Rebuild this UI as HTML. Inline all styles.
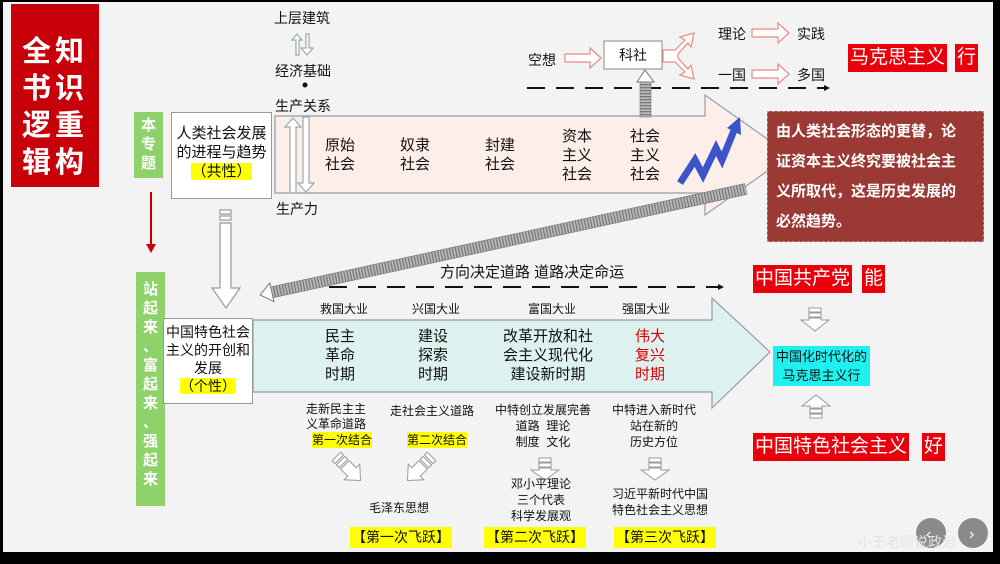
<!DOCTYPE html>
<html><head><meta charset="utf-8">
<style>
body{margin:0;width:1000px;height:564px;background:#000;overflow:hidden;position:relative;font-family:"Liberation Sans","Noto Sans CJK SC",sans-serif;color:#111}
.s{position:absolute;left:3px;top:2px;width:990px;height:550px;background:#f3f3f3}
.a{position:absolute;white-space:nowrap}
.c{text-align:center}
.y{background:#ffff00}
.r{background:#e8000b;color:#fff;font-size:19px;line-height:28px;padding:0 2px}
</style></head><body>
<div class="s"></div>
<svg class="a" style="left:0;top:0" width="1000" height="564">
<defs>
<pattern id="h" width="3" height="4" patternUnits="userSpaceOnUse"><rect width="3" height="4" fill="#bbb"/><rect width="1.3" height="4" fill="#777"/></pattern>
<pattern id="hv" width="4" height="3" patternUnits="userSpaceOnUse"><rect width="4" height="3" fill="#bbb"/><rect width="4" height="1.3" fill="#777"/></pattern>
</defs>
<polygon points="275,116 705,116 705,95 790,155 705,215 705,193 275,193" fill="#fdeee9" stroke="#9a9aa8" stroke-width="1.2"/>
<polygon points="253,320 712,320 712,298 770,352 712,408 712,392 253,392" fill="#ddf2ef" stroke="#9a9aa8" stroke-width="1.2"/>
<g fill="#fff" stroke="#9aa" stroke-width="1.2">
<polygon points="290,193 290,127 285,127 293,118 301,127 296,127 296,193"/>
<polygon points="303,117 309,117 309,183 314,183 306,192 298,183 303,183"/>
<polygon points="296,55 296,40 292,40 297,34 302,40 299,40 299,55"/>
<polygon points="306,34 309,34 309,48 313,48 307,55 301,48 306,48"/>
</g>
<circle cx="305" cy="85" r="2.5" fill="#111"/>
<line x1="527" y1="88" x2="824" y2="88" stroke="#111" stroke-width="2" stroke-dasharray="18,11"/>
<polygon points="824,85 830,88 824,91" fill="#111"/>
<line x1="300" y1="287" x2="718" y2="287" stroke="#111" stroke-width="2" stroke-dasharray="18,11"/>
<polygon points="718,284 724,287 718,290" fill="#111"/>
<g fill="#fff" stroke="#e88" stroke-width="1.2">
<polygon points="565,54 590,54 590,48 601,58 590,68 590,62 565,62"/>
<polygon points="752,29 778,29 778,23 789,33 778,43 778,37 752,37"/>
<polygon points="752,70 778,70 778,64 789,74 778,84 778,78 752,78"/>
<path d="M663,50 L675,50 L685,40 L680,37 L694,33 L691,47 L688,43 L678,54 L678,58 L688,69 L691,65 L694,79 L680,75 L685,72 L675,62 L663,62 Z"/>
</g>
<rect x="604" y="41" width="58" height="28" fill="#fff" stroke="#888"/>
<rect x="640" y="82" width="11" height="35" fill="url(#hv)" stroke="#777" stroke-width=".6"/>
<polygon points="637,82 645,70 654,82" fill="#fff" stroke="#777"/>
<g transform="translate(262,294) rotate(-12.3)">
<rect x="10" y="-5" width="485" height="11" fill="url(#h)" stroke="#777" stroke-width=".6"/>
<polygon points="10,-9 -2,0.5 10,10" fill="#fff" stroke="#777"/>
</g>
<polyline points="680,183 695,160 703,175 716,148 722,160 735,128" fill="none" stroke="#3b55c9" stroke-width="7" stroke-linejoin="miter"/>
<polygon points="727,128 740,117 741,135" fill="#3b55c9"/>
<g fill="#fff" stroke="#999" stroke-width="1.2">
<rect x="220" y="210" width="11" height="4"/><rect x="220" y="216" width="11" height="4"/>
<polygon points="220,223 231,223 231,288 240,288 226,308 212,288 220,288"/>
</g>
<line x1="151" y1="192" x2="151" y2="248" stroke="#c00" stroke-width="2"/>
<polygon points="146,244 151,253 156,244" fill="#c00"/>
<g fill="#fff" stroke="#999" stroke-width="1">
<g transform="translate(352,472) rotate(-45)"><rect x="-6" y="-22" width="12" height="4"/><rect x="-6" y="-16" width="12" height="4"/><polygon points="-6,-10 6,-10 6,0 11,0 0,12 -11,0 -6,0"/></g>
<g transform="translate(416,472) rotate(45)"><rect x="-6" y="-22" width="12" height="4"/><rect x="-6" y="-16" width="12" height="4"/><polygon points="-6,-10 6,-10 6,0 11,0 0,12 -11,0 -6,0"/></g>
<g transform="translate(545,466)"><rect x="-6" y="-8" width="12" height="4"/><rect x="-6" y="-3" width="12" height="4"/><polygon points="-6,2 6,2 6,4 14,4 0,14 -14,4 -6,4"/></g>
<g transform="translate(655,466)"><rect x="-6" y="-8" width="12" height="4"/><rect x="-6" y="-3" width="12" height="4"/><polygon points="-6,2 6,2 6,4 14,4 0,14 -14,4 -6,4"/></g>
<g transform="translate(815,318)"><rect x="-6" y="-10" width="12" height="4"/><rect x="-6" y="-5" width="12" height="4"/><polygon points="-6,0 6,0 6,2 14,2 0,13 -14,2 -6,2"/></g>
<g transform="translate(816,408) rotate(180)"><rect x="-6" y="-10" width="12" height="4"/><rect x="-6" y="-5" width="12" height="4"/><polygon points="-6,0 6,0 6,2 14,2 0,13 -14,2 -6,2"/></g>
</g>
<circle cx="931" cy="533" r="15" fill="#8a8a8a"/><circle cx="973" cy="533" r="15" fill="#8a8a8a"/>
<text x="926" y="539" fill="#fff" font-size="16">‹</text><text x="969" y="539" fill="#fff" font-size="16">›</text>
</svg>

<div class="a" style="left:11px;top:4px;width:88px;height:183px;background:#c8000a;color:#fff;font-size:29px;line-height:37px;font-weight:bold;padding-top:30px;box-sizing:border-box;text-align:center;letter-spacing:4px">全知<br>书识<br>逻重<br>辑构</div>
<div class="a c" style="left:134px;top:112px;width:29px;height:66px;background:#8fd16a;color:#fff;font-weight:bold;font-size:15px;line-height:19px;padding-top:4px;box-sizing:border-box">本<br>专<br>题</div>
<div class="a c" style="left:136px;top:272px;width:29px;height:234px;background:#8fd16a;color:#fff;font-weight:bold;font-size:15px;line-height:19px;padding-top:8px;box-sizing:border-box">站<br>起<br>来<br>、<br>富<br>起<br>来<br>、<br>强<br>起<br>来</div>

<div class="a c" style="left:171px;top:112px;width:101px;height:87px;background:#fff;border:1px solid #999;box-sizing:border-box;font-size:15px;line-height:19px;padding-top:11px">人类社会发展<br>的进程与趋势<br><span class="y">（共性）</span></div>
<div class="a c" style="left:163px;top:318px;width:90px;height:86px;background:#fff;border:1px solid #999;box-sizing:border-box;font-size:14px;line-height:18px;padding-top:4px">中国特色社会<br>主义的开创和<br>发展<br><span class="y">（个性）</span></div>

<div class="a" style="left:274px;top:8px;font-size:14px">上层建筑</div>
<div class="a" style="left:275px;top:61px;font-size:14px">经济基础</div>
<div class="a" style="left:275px;top:96px;font-size:14px">生产关系</div>
<div class="a" style="left:276px;top:199px;font-size:14px">生产力</div>

<div class="a c" style="left:325px;top:136px;font-size:15px;line-height:19px">原始<br>社会</div>
<div class="a c" style="left:400px;top:136px;font-size:15px;line-height:19px">奴隶<br>社会</div>
<div class="a c" style="left:485px;top:136px;font-size:15px;line-height:19px">封建<br>社会</div>
<div class="a c" style="left:562px;top:127px;font-size:15px;line-height:19px">资本<br>主义<br>社会</div>
<div class="a c" style="left:630px;top:127px;font-size:15px;line-height:19px">社会<br>主义<br>社会</div>

<div class="a" style="left:528px;top:50px;font-size:14px">空想</div>
<div class="a c" style="left:604px;top:45px;width:58px;font-size:14px">科社</div>
<div class="a" style="left:718px;top:24px;font-size:14px">理论</div>
<div class="a" style="left:797px;top:24px;font-size:14px">实践</div>
<div class="a" style="left:718px;top:65px;font-size:14px">一国</div>
<div class="a" style="left:797px;top:65px;font-size:14px">多国</div>
<div class="a r" style="left:848px;top:44px">马克思主义</div>
<div class="a r" style="left:955px;top:44px">行</div>

<div class="a" style="left:767px;top:111px;width:217px;height:131px;background:#9b3a35;border:1px dashed #c88;box-sizing:border-box;color:#fff;font-weight:bold;font-size:15px;line-height:30px;padding:5px 0 0 8px">由人类社会形态的更替，论<br>证资本主义终究要被社会主<br>义所取代，这是历史发展的<br>必然趋势。</div>

<div class="a" style="left:440px;top:261px;font-size:15px">方向决定道路 道路决定命运</div>

<div class="a" style="left:320px;top:300px;font-size:12px">救国大业</div>
<div class="a" style="left:412px;top:300px;font-size:12px">兴国大业</div>
<div class="a" style="left:528px;top:300px;font-size:12px">富国大业</div>
<div class="a" style="left:622px;top:300px;font-size:12px">强国大业</div>

<div class="a c" style="left:325px;top:327px;font-size:15px;line-height:19px">民主<br>革命<br>时期</div>
<div class="a c" style="left:418px;top:327px;font-size:15px;line-height:19px">建设<br>探索<br>时期</div>
<div class="a c" style="left:503px;top:327px;font-size:15px;line-height:19px">改革开放和社<br>会主义现代化<br>建设新时期</div>
<div class="a c" style="left:635px;top:327px;font-size:15px;line-height:19px;color:#d00">伟大<br>复兴<br>时期</div>

<div class="a" style="left:306px;top:402px;font-size:12px;line-height:15px">走新民主主<br>义革命道路</div>
<div class="a y" style="left:312px;top:432px;font-size:12px;line-height:16px">第一次结合</div>
<div class="a" style="left:390px;top:402px;font-size:12px">走社会主义道路</div>
<div class="a y" style="left:407px;top:432px;font-size:12px;line-height:16px">第二次结合</div>
<div class="a c" style="left:495px;top:402px;font-size:12px;line-height:16px">中特创立发展完善<br>道路&nbsp; 理论<br>制度&nbsp; 文化</div>
<div class="a c" style="left:612px;top:402px;font-size:12px;line-height:16px">中特进入新时代<br>站在新的<br>历史方位</div>

<div class="a" style="left:369px;top:499px;font-size:12px">毛泽东思想</div>
<div class="a c" style="left:511px;top:476px;font-size:12px;line-height:16px">邓小平理论<br>三个代表<br>科学发展观</div>
<div class="a c" style="left:612px;top:486px;font-size:12px;line-height:16px">习近平新时代中国<br>特色社会主义思想</div>

<div class="a y" style="left:350px;top:527px;font-size:14px;line-height:21px;padding:0 2px">【第一次飞跃】</div>
<div class="a y" style="left:484px;top:527px;font-size:14px;line-height:21px;padding:0 2px">【第二次飞跃】</div>
<div class="a y" style="left:614px;top:527px;font-size:14px;line-height:21px;padding:0 2px">【第三次飞跃】</div>

<div class="a r" style="left:753px;top:265px">中国共产党</div>
<div class="a r" style="left:862px;top:265px">能</div>
<div class="a c" style="left:773px;top:346px;background:#1ef0f0;font-size:13px;line-height:19px;padding:1px 3px">中国化时代化的<br>马克思主义行</div>
<div class="a r" style="left:753px;top:433px">中国特色社会主义</div>
<div class="a r" style="left:922px;top:433px">好</div>
<div class="a" style="left:858px;top:532px;font-size:14px;color:#e4e4dc">小王老师说政治</div>
</body></html>
